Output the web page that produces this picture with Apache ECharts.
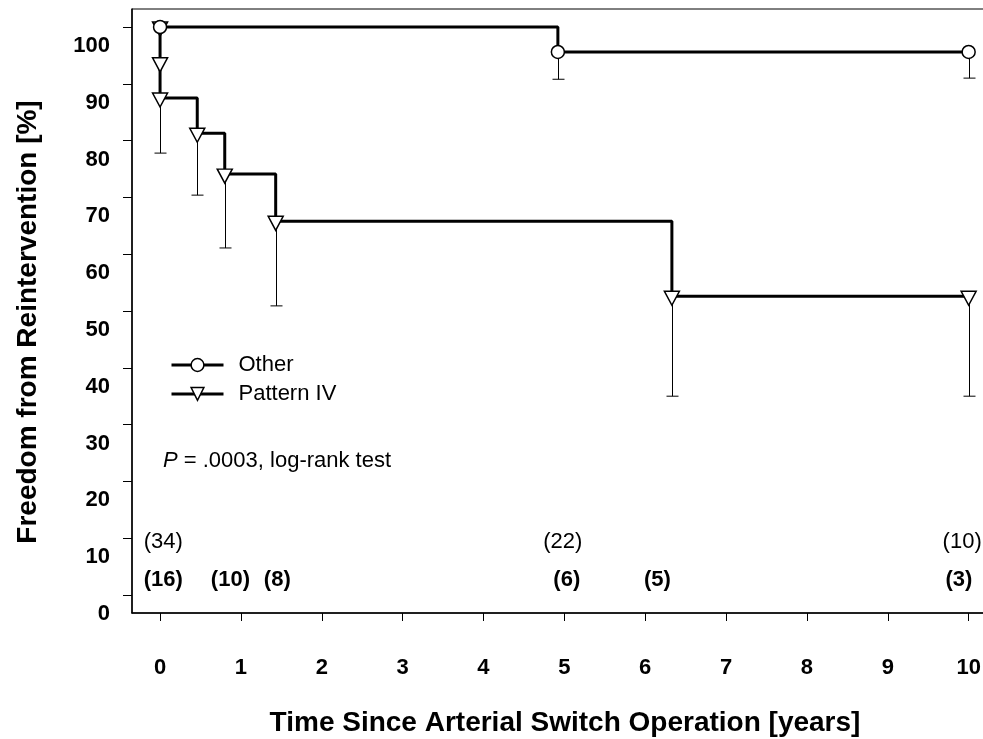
<!DOCTYPE html>
<html>
<head>
    <meta charset="utf-8">
    <title>Freedom from Reintervention</title>
    <script src="https://cdn.jsdelivr.net/npm/echarts@6/dist/echarts.min.js"></script>
    <style>
        html, body { margin: 0; padding: 0; background: #fff; }
        #chart1 { width: 983px; height: 739px; }
    </style>
</head>
<body>
<div id="chart1"></div>
<script type="text/javascript">
    // tick labels
    var xTicks = [0, 1, 2, 3, 4, 5, 6, 7, 8, 9, 10];
    var yTicks = [0, 10, 20, 30, 40, 50, 60, 70, 80, 90, 100];

    // Kaplan-Meier steps, "Other"
    var otherTime = [0, 4.92, 10];
    var otherSurv = [100, 95.6, 95.6];
    var otherLow = [null, 90.8, 91.0];

    // Kaplan-Meier steps, "Pattern IV"
    var patternTime = [0, 0, 0, 0.46, 0.8, 1.43, 6.33, 10];
    var patternSurv = [100, 93.7, 87.5, 81.3, 74.1, 65.8, 52.6, 52.6];
    var patternLow = [null, null, 77.8, 70.4, 61.1, 50.9, 35.0, 35.0];

    // patients at risk
    var otherRiskX = [0.04, 4.98, 9.92];
    var otherRiskN = ['(34)', '(22)', '(10)'];
    var patternRiskX = [0.04, 0.87, 1.45, 5.03, 6.15, 9.88];
    var patternRiskN = ['(16)', '(10)', '(8)', '(6)', '(5)', '(3)'];

    var font = 'Liberation Sans, Arial, Helvetica, sans-serif';
    var triPath = 'path://M0,0 L10,0 L5,9 Z';

    function zip(xs, ys) {
        var out = [];
        for (var i = 0; i < xs.length; i++) out.push([xs[i], ys[i]]);
        return out;
    }
    function bars(xs, ys, lows) {
        var out = [];
        for (var i = 0; i < xs.length; i++) {
            if (lows[i] != null) out.push([xs[i], ys[i], lows[i]]);
        }
        return out;
    }
    function riskData(xs, labels, level) {
        var out = [];
        for (var i = 0; i < xs.length; i++) out.push({value: [xs[i], level], name: labels[i]});
        return out;
    }

    var myChart = echarts.init(document.getElementById('chart1'));
    myChart.setOption({
        animation: false,
        textStyle: {fontFamily: font, color: '#000'},
        grid: {
            left: 132, top: 9, right: -1, bottom: 126,
            outerBoundsMode: 'none', containLabel: false,
            show: true, borderColor: '#000', borderWidth: 1
        },
        legend: {
            orient: 'vertical',
            left: 170, top: 354, padding: 0,
            itemWidth: 52, itemHeight: 16, itemGap: 7,
            lineStyle: {width: 3, color: '#000'},
            itemStyle: {color: '#fff', borderColor: '#000', borderWidth: 1.5},
            textStyle: {fontSize: 22, color: '#000', fontFamily: font, padding: [0, 0, 0, 10]},
            data: ['Other', 'Pattern IV']
        },
        xAxis: {
            type: 'value',
            min: -0.347, max: 10.19,
            splitLine: {show: false},
            axisLine: {onZero: false, lineStyle: {color: '#000', width: 1.5}},
            axisTick: {show: true, length: 8, customValues: xTicks, lineStyle: {color: '#000'}},
            axisLabel: {
                customValues: xTicks, margin: 44,
                fontSize: 22, fontWeight: 'bold', color: '#000', fontFamily: font
            },
            name: 'Time Since Arterial Switch Operation [years]',
            nameLocation: 'middle', nameGap: 96,
            nameTextStyle: {fontSize: 28, fontWeight: 'bold', color: '#000', fontFamily: font, padding: [0, 0, 0, 14]}
        },
        yAxis: {
            type: 'value',
            min: -3.17, max: 103.17,
            splitLine: {show: false},
            axisLine: {show: true, onZero: false, lineStyle: {color: '#000', width: 1.5}},
            axisTick: {show: true, length: 9, customValues: yTicks, lineStyle: {color: '#000'}},
            axisLabel: {
                customValues: yTicks, margin: 22,
                verticalAlign: 'top', lineHeight: 38,
                fontSize: 22, fontWeight: 'bold', color: '#000', fontFamily: font
            },
            name: 'Freedom from Reintervention [%]',
            nameLocation: 'middle', nameGap: 90,
            nameTextStyle: {fontSize: 28, fontWeight: 'bold', color: '#000', fontFamily: font, padding: [0, 22, 0, 0]}
        },
        graphic: [{
            type: 'text',
            left: 163, top: 450,
            style: {
                text: '{i|P} = .0003, log-rank test',
                fontSize: 22, fontFamily: font, fill: '#000',
                rich: {i: {fontStyle: 'italic', fontSize: 22, fontFamily: font}}
            }
        }],
        series: [{
            type: 'custom',
            name: 'errOther',
            z: 1,
            renderItem: errorBar,
            encode: {x: 0, y: [1, 2]},
            data: bars(otherTime, otherSurv, otherLow)
        }, {
            type: 'custom',
            name: 'errPattern',
            z: 1,
            renderItem: errorBar,
            encode: {x: 0, y: [1, 2]},
            data: bars(patternTime, patternSurv, patternLow)
        }, {
            name: 'Pattern IV',
            type: 'line',
            step: 'end',
            z: 3,
            symbol: triPath,
            symbolSize: [15, 14],
            symbolOffset: [0, 2],
            symbolKeepAspect: false,
            showAllSymbol: true,
            lineStyle: {color: '#000', width: 3},
            itemStyle: {color: '#fff', borderColor: '#000', borderWidth: 1.5},
            data: zip(patternTime, patternSurv)
        }, {
            name: 'Other',
            type: 'line',
            step: 'end',
            z: 4,
            symbol: 'circle',
            symbolSize: 13,
            showAllSymbol: true,
            lineStyle: {color: '#000', width: 3},
            itemStyle: {color: '#fff', borderColor: '#000', borderWidth: 1.5},
            data: zip(otherTime, otherSurv)
        }, {
            type: 'scatter',
            name: 'riskOther',
            symbolSize: 0,
            silent: true,
            itemStyle: {opacity: 1},
            label: {
                show: true, position: 'inside', formatter: '{b}',
                fontSize: 22, color: '#000', fontFamily: font
            },
            data: riskData(otherRiskX, otherRiskN, 9.3)
        }, {
            type: 'scatter',
            name: 'riskPattern',
            symbolSize: 0,
            silent: true,
            itemStyle: {opacity: 1},
            label: {
                show: true, position: 'inside', formatter: '{b}',
                fontSize: 22, fontWeight: 'bold', color: '#000', fontFamily: font
            },
            data: riskData(patternRiskX, patternRiskN, 2.6)
        }]
    });

    function errorBar(params, api) {
        var top = api.coord([api.value(0), api.value(1)]);
        var low = api.coord([api.value(0), api.value(2)]);
        var x = Math.round(top[0]) + 0.5;
        return {
            type: 'group',
            children: [{
                type: 'line',
                shape: {x1: x, y1: top[1], x2: x, y2: low[1]},
                style: {stroke: '#000', lineWidth: 1}
            }, {
                type: 'line',
                shape: {x1: x - 6, y1: low[1], x2: x + 6, y2: low[1]},
                style: {stroke: '#000', lineWidth: 1}
            }]
        };
    }
</script>
</body>
</html>
